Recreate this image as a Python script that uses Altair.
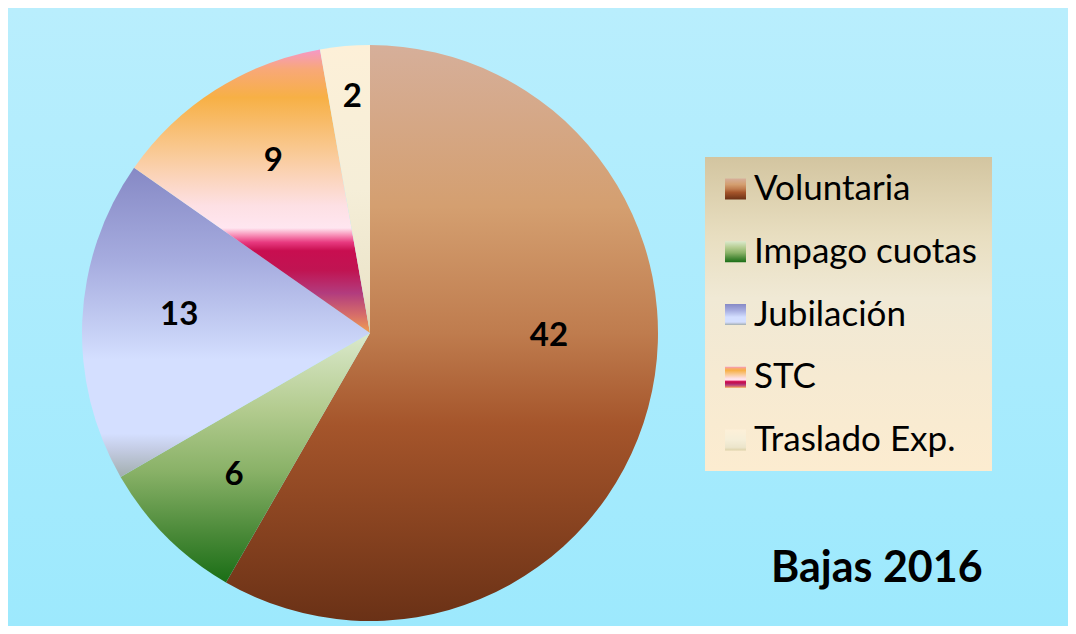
import math
import altair as alt
import pandas as pd

# ---- data ----
categories = ["Voluntaria", "Impago cuotas", "Jubilación", "STC", "Traslado Exp."]
values = [42, 6, 13, 9, 2]
title_text = "Bajas 2016"

df = pd.DataFrame({"cat": categories, "value": values, "order": list(range(len(categories)))})

W, H = 1060, 618
CX, CY, R = 362, 325, 288
FONT = "Lato"


def grad(stops):
    return alt.LinearGradient(
        gradient="linear", x1=0, y1=0, x2=0, y2=1,
        stops=[alt.GradientStop(offset=o, color=c) for o, c in stops],
    )


slice_grads = {
    "Voluntaria": grad([(0, "#d6af9a"), (0.28, "#d49f70"), (0.5, "#bf7c4e"),
                        (0.66, "#a5552b"), (0.85, "#85411f"), (1, "#6a3116")]),
    "Impago cuotas": grad([(0, "#dbe9cc"), (0.3, "#b4cc90"), (0.55, "#8ab268"),
                           (0.8, "#4b8a39"), (1, "#1a6e16")]),
    "Jubilación": grad([(0, "#8689c5"), (0.3, "#a6acdf"), (0.55, "#c9d3f7"), (0.62, "#d4dfff"),
                        (0.86, "#d4dfff"), (0.91, "#c4cce4"), (1, "#a2aeae")]),
    "STC": grad([(0, "#f598c8"), (0.07, "#f8a878"), (0.17, "#f7b045"), (0.35, "#f9c890"),
                 (0.55, "#fde0e4"), (0.63, "#ffe6f0"), (0.655, "#f890b8"), (0.68, "#e83a80"),
                 (0.71, "#c80e50"), (0.78, "#c01452"), (0.86, "#b23c7e"), (0.94, "#d87068"),
                 (1, "#f0a050")]),
    "Traslado Exp.": grad([(0, "#fdf0d8"), (0.5, "#f5eed8"), (0.85, "#ece5cb"), (1, "#ddd2a8")]),
}

# label placement (style): radius, dx, dy per slice
label_place = {
    "Voluntaria": (179, 6, -43),
    "Impago cuotas": (195, 2, 4),
    "Jubilación": (195, 4, -9),
    "STC": (195, 8, -8),
    "Traslado Exp.": (237, 3, 0),
}

theta_scale = alt.Scale(domain=[0, 1], range=[0, 2 * math.pi])
y_scale = alt.Scale(type="point", domain=categories, range=[181, 432], padding=0)

base = alt.Chart(df).transform_joinaggregate(
    total="sum(value)"
).transform_window(
    cum="sum(value)", sort=[alt.SortField("order")], frame=[None, 0]
).transform_calculate(
    start="(datum.cum - datum.value) / datum.total",
    end="datum.cum / datum.total",
    mid="(datum.cum - datum.value / 2) / datum.total",
)

layers = []

# background
layers.append(
    alt.Chart(df).mark_rect(
        fill=grad([(0, "#b9eefd"), (1, "#9de9fd")]), strokeWidth=0
    ).encode(x=alt.value(0), x2=alt.value(W), y=alt.value(0), y2=alt.value(H))
    .transform_filter("datum.order == 0")
)

# pie slices
for c in categories:
    layers.append(
        base.transform_filter(alt.datum.cat == c).mark_arc(
            outerRadius=R, x=CX, y=CY, fill=slice_grads[c], strokeWidth=0
        ).encode(
            theta=alt.Theta("start:Q", scale=theta_scale),
            theta2="end:Q",
        )
    )

# value labels
for c in categories:
    rad, dx, dy = label_place[c]
    layers.append(
        base.transform_filter(alt.datum.cat == c).mark_text(
            radius=rad, dx=dx, dy=dy, font=FONT, fontSize=33, fontWeight="bold", color="black",
            align="center", baseline="middle", x=CX, y=CY,
        ).encode(theta=alt.Theta("mid:Q", scale=theta_scale), text="value:Q")
    )

# legend box
layers.append(
    alt.Chart(df).mark_rect(
        fill=grad([(0, "#d3c5a0"), (0.25, "#e8dec0"), (0.45, "#f0e9d5"), (0.7, "#f6ead2"), (1, "#fcecd0")]),
        strokeWidth=0,
    ).encode(x=alt.value(697), x2=alt.value(984), y=alt.value(149), y2=alt.value(463))
    .transform_filter("datum.order == 0")
)

# legend symbols
for c in categories:
    layers.append(
        alt.Chart(df).transform_filter(alt.datum.cat == c).mark_square(
            size=441, x=727.5, fill=slice_grads[c], strokeWidth=0, opacity=1
        ).encode(y=alt.Y("cat:N", scale=y_scale, axis=None))
    )

# legend labels
layers.append(
    alt.Chart(df).mark_text(
        align="left", baseline="middle", x=746, font=FONT, fontSize=35, color="black"
    ).encode(y=alt.Y("cat:N", scale=y_scale, axis=None), text="cat:N")
)

# title
layers.append(
    alt.Chart(df).transform_filter("datum.order == 0").mark_text(
        align="left", baseline="alphabetic", font=FONT, fontSize=43, fontWeight="bold", color="black"
    ).encode(x=alt.value(763), y=alt.value(574), text=alt.value(title_text))
)

chart = alt.layer(*layers).properties(
    width=W, height=H, padding=0,
    autosize=alt.AutoSizeParams(type="fit", contains="padding"),
    background="#a8ebfd",
).configure_view(stroke=None)

chart.save("out.html", embed_options={"renderer": "svg", "actions": False})
